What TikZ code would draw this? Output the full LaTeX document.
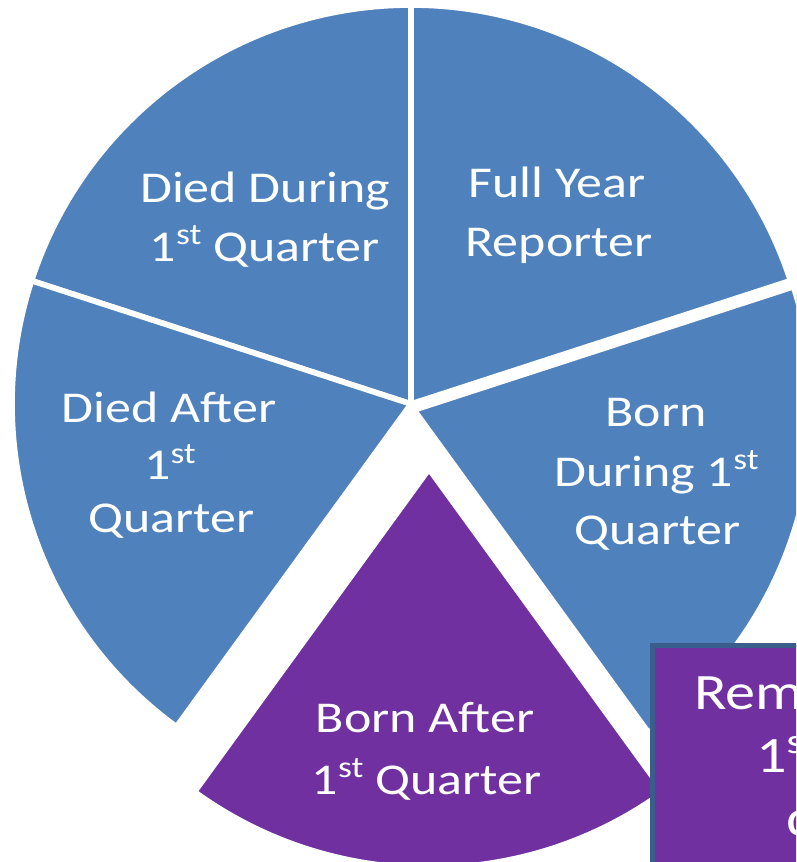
\documentclass[tikz,border=0pt]{standalone}
\usepackage{fontspec}
\setmainfont{Carlito}
% labels use a slightly widened face
\newfontfamily\lblfont[FakeStretch=1.18]{Carlito}
\definecolor{sliceblue}{HTML}{4F81BD}
\definecolor{slicepurple}{HTML}{7030A0}
\definecolor{boxedge}{HTML}{3A5E8C}
% ordinal superscript: #1 size, #2 raise (pt), #3 text
\newcommand{\ordsup}[3]{\raisebox{#2pt}{\fontsize{#1}{#1}\selectfont #3}}

\begin{document}
\begin{tikzpicture}[x=1pt,y=1pt,
  slice/.style={draw=white, line width=5.7pt, line join=miter},
  lbl/.style={anchor=base, inner sep=0pt, text=white, font=\lblfont\fontsize{44}{53}\selectfont},
  remlbl/.style={anchor=base west, inner sep=0pt, text=white, font=\lblfont\fontsize{51}{61}\selectfont}]
\useasboundingbox (0,0) rectangle (796,862);
\clip (0,0) rectangle (796,862);

\def\R{399}
% pie centre and the two pulled-out slice tips
\coordinate (c)  at (411,458);
\coordinate (bd) at (414,452);
\coordinate (ba) at (429,393);

% blue slices
\path[fill=sliceblue, slice] (c) -- ++(18:\R)  arc[start angle=18,  end angle=90,  radius=\R] -- cycle;
\path[fill=sliceblue, slice] (c) -- ++(90:\R)  arc[start angle=90,  end angle=162, radius=\R] -- cycle;
\path[fill=sliceblue, slice] (c) -- ++(162:\R) arc[start angle=162, end angle=234, radius=\R] -- cycle;
\path[fill=sliceblue, slice] (bd) -- ++(306:\R) arc[start angle=306, end angle=378, radius=\R] -- cycle;
% purple slice
\path[fill=slicepurple, slice] (ba) -- ++(234:\R) arc[start angle=234, end angle=306, radius=\R] -- cycle;

% labels
\node[lbl] (dd1) at (265,659) {Died During};
\node[lbl] (dd2) at (264.5,600) {1\ordsup{30}{17}{st} Quarter};
\node[lbl] (fy1) at (557,664) {Full Year};
\node[lbl] (fy2) at (559,605) {Reporter};
\node[lbl] (da1) at (169,439) {Died After};
\node[lbl] (da2) at (170,382) {1\ordsup{30}{16}{st}};
\node[lbl] (da3) at (171.5,329) {Quarter};
\node[lbl] (bd1) at (656,435) {Born};
\node[lbl] (bd2) at (656.5,375) {During 1\ordsup{30}{17}{st}};
\node[lbl] (bd3) at (657.5,317) {Quarter};
\node[lbl] (ba1) at (425,129) {Born After};
\node[lbl] (ba2) at (426.5,67) {1\ordsup{30}{17}{st} Quarter};

% callout box at the lower right
\path[fill=slicepurple, draw=boxedge, line width=5pt] (652,-60) rectangle (960,216.5);
\node[remlbl] (rm1) at (694,152) {Remained};
\node[remlbl] (rm2) at (756,89) {1\ordsup{35}{19}{st}};
\node[remlbl] (rm3) at (786,26) {quarter};
\end{tikzpicture}
\end{document}
